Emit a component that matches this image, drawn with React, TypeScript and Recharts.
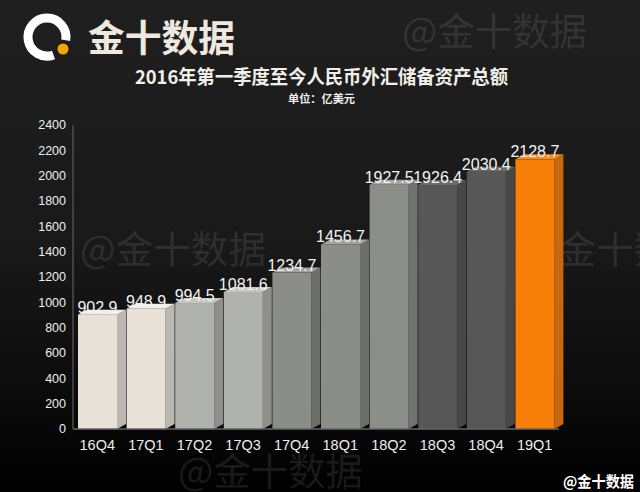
import { Bar, BarChart, LabelList, XAxis, YAxis } from 'recharts'

const quarters = ['16Q4', '17Q1', '17Q2', '17Q3', '17Q4', '18Q1', '18Q2', '18Q3', '18Q4', '19Q1']
const reserves = [902.9, 948.9, 994.5, 1081.6, 1234.7, 1456.7, 1927.5, 1926.4, 2030.4, 2128.7]
const yTicks = [0, 200, 400, 600, 800, 1000, 1200, 1400, 1600, 1800, 2000, 2200, 2400]

const frontColors = ['#e8e1d8', '#e8e1d8', '#b0b2ad', '#b0b2ad', '#8b8d88', '#8b8d88', '#8c8e89', '#575757', '#575757', '#f77f07']
const sideColors = ['#bcb7b0', '#bcb7b0', '#8f908c', '#8f908c', '#6c6e6a', '#6c6e6a', '#717370', '#474747', '#474747', '#c8680c']
const topColors = ['#f3eee7', '#f3eee7', '#c4c6c1', '#c4c6c1', '#a2a49f', '#a2a49f', '#a3a5a0', '#6b6b6b', '#6b6b6b', '#fa8d1e']

const title = '2016年第一季度至今人民币外汇储备资产总额'
const unit = '单位：亿美元'
const brand = '金十数据'
const watermark = '@金十数据'

const data = quarters.map((quarter, i) => ({ quarter, value: reserves[i] }))

const DX = 9
const DY = 5

function Bar3D(props: any) {
  const { x, y, width, height, payload } = props
  const i = quarters.indexOf(payload.quarter)
  if (height <= 0) return null
  return (
    <g>
      <polygon
        points={`${x + width},${y} ${x + width + DX},${y - DY} ${x + width + DX},${y + height - DY} ${x + width},${y + height}`}
        fill={sideColors[i]}
      />
      <polygon
        points={`${x},${y} ${x + DX},${y - DY} ${x + width + DX},${y - DY} ${x + width},${y}`}
        fill={topColors[i]}
      />
      <rect x={x} y={y} width={width} height={height} fill={frontColors[i]} />
    </g>
  )
}

function ValueLabel(props: any) {
  const { x, y, width, value } = props
  return (
    <text
      x={x + width / 2}
      y={y - 2}
      textAnchor="middle"
      fontSize={16}
      fill="#f2f2f2"
      fontFamily="'Liberation Sans', Arial, sans-serif"
    >
      {value}
    </text>
  )
}

const wmStyle = { fill: 'rgba(255,255,255,0.1)', fontFamily: "'Noto Sans CJK SC', sans-serif", fontSize: 38 }

function App() {
  return (
    <div
      style={{
        position: 'absolute',
        left: 0,
        top: 0,
        width: 640,
        height: 492,
        overflow: 'hidden',
        background: 'linear-gradient(to bottom, #1f1f1f 0%, #191919 50%, #0b0b0b 80%, #000000 100%)',
        fontFamily: "'Liberation Sans', Arial, sans-serif",
      }}
    >
      <svg width={640} height={492} style={{ position: 'absolute', left: 0, top: 0 }}>
        <text x={402} y={28} dominantBaseline="central" textLength={185} lengthAdjust="spacingAndGlyphs" style={wmStyle}>
          {watermark}
        </text>
        <text x={80} y={246} dominantBaseline="central" textLength={186} lengthAdjust="spacingAndGlyphs" style={wmStyle}>
          {watermark}
        </text>
        <text x={523} y={246} dominantBaseline="central" textLength={186} lengthAdjust="spacingAndGlyphs" style={wmStyle}>
          {watermark}
        </text>
        <text x={178} y={468} dominantBaseline="central" textLength={185} lengthAdjust="spacingAndGlyphs" style={wmStyle}>
          {watermark}
        </text>
      </svg>

      <div style={{ position: 'absolute', left: 0, top: 0 }}>
        <BarChart width={640} height={492} data={data} margin={{ top: 125, right: 81, left: 0, bottom: 0 }}>
          <XAxis
            dataKey="quarter"
            height={63}
            tickLine={false}
            tickSize={0}
            tickMargin={11}
            stroke="#666666"
            strokeWidth={1.5}
            tick={{ fill: '#eeeeee', fontSize: 14.5 }}
            interval={0}
          />
          <YAxis
            type="number"
            domain={[0, 2400]}
            ticks={yTicks}
            width={73}
            tickLine={false}
            tickSize={0}
            tickMargin={7}
            stroke="#4e4e4e"
            strokeWidth={1.5}
            tick={{ fill: '#eeeeee', fontSize: 12.5 }}
            interval={0}
          />
          <Bar dataKey="value" barSize={39} shape={Bar3D} isAnimationActive={false}>
            <LabelList dataKey="value" content={ValueLabel} />
          </Bar>
        </BarChart>
      </div>

      <svg width={640} height={492} style={{ position: 'absolute', left: 0, top: 0, pointerEvents: 'none' }}>
        <path d="M 53.5 54.9 A 19 19 0 1 1 65.7 40.3" fill="none" stroke="#ffffff" strokeWidth={9} />
        <circle cx={63} cy={49} r={5.5} fill="#f7a600" />
        <text
          x={88}
          y={36}
          dominantBaseline="central"
          textLength={147}
          lengthAdjust="spacingAndGlyphs"
          fill="#eee9e0"
          fontWeight="bold"
          fontSize={37}
          fontFamily="'Noto Sans CJK SC', sans-serif"
        >
          {brand}
        </text>
        <text
          x={321.5}
          y={75}
          dominantBaseline="central"
          textAnchor="middle"
          textLength={373}
          lengthAdjust="spacingAndGlyphs"
          fill="#f2efe9"
          fontWeight="bold"
          fontSize={19}
          fontFamily="'Noto Sans CJK SC', sans-serif"
        >
          {title}
        </text>
        <text
          x={321.5}
          y={98}
          dominantBaseline="central"
          textAnchor="middle"
          textLength={67}
          lengthAdjust="spacingAndGlyphs"
          fill="#eeeeee"
          fontWeight="bold"
          fontSize={11}
          fontFamily="'Noto Sans CJK SC', sans-serif"
        >
          {unit}
        </text>
        <text
          x={563}
          y={480}
          dominantBaseline="central"
          textLength={71}
          lengthAdjust="spacingAndGlyphs"
          fill="#ffffff"
          fontWeight="bold"
          fontSize={15}
          fontFamily="'Noto Sans CJK SC', sans-serif"
        >
          {watermark}
        </text>
      </svg>
    </div>
  )
}

export default App
